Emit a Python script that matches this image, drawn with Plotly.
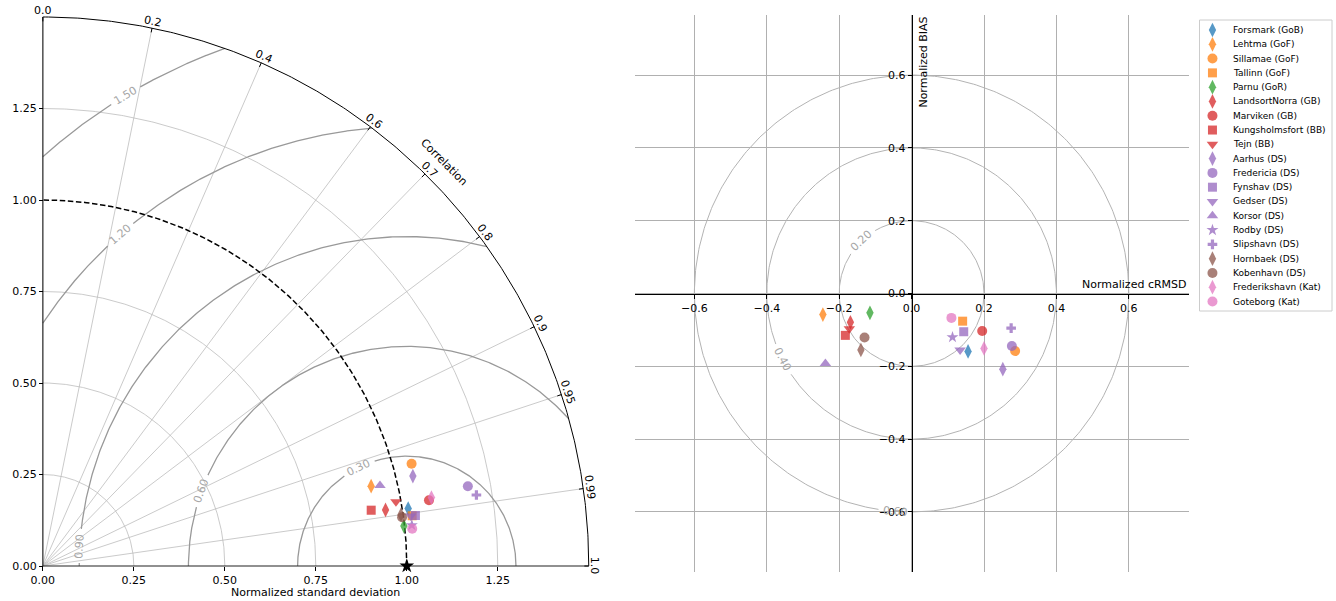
import numpy as np
import plotly.graph_objects as go

# ---------------- data ----------------
stations = [
    "Forsmark (GoB)", "Lehtma (GoF)", "Sillamae (GoF)", "Tallinn (GoF)", "Parnu (GoR)",
    "LandsortNorra (GB)", "Marviken (GB)", "Kungsholmsfort (BB)", "Tejn (BB)",
    "Aarhus (DS)", "Fredericia (DS)", "Fynshav (DS)", "Gedser (DS)", "Korsor (DS)",
    "Rodby (DS)", "Slipshavn (DS)", "Hornbaek (DS)", "Kobenhavn (DS)",
    "Frederikshavn (Kat)", "Goteborg (Kat)",
]
# Taylor statistics (std normalised by observations, Pearson correlation)
norm_std = [1.016, 0.928, 1.051, 1.024, 0.998, 0.954, 1.076, 0.915, 0.986, 1.046,
            1.188, 1.033, 1.020, 0.952, 1.020, 1.207, 0.994, 0.996, 1.084, 1.020]
correlation = [0.988, 0.972, 0.964, 0.991, 0.994, 0.987, 0.986, 0.986, 0.984, 0.972,
               0.983, 0.991, 0.991, 0.973, 0.994, 0.987, 0.990, 0.991, 0.985, 0.995]
# Target statistics (signed normalised centred RMSD, normalised bias)
norm_crmsd = [0.156, -0.245, 0.286, 0.141, -0.115, -0.169, 0.195, -0.183, -0.172, 0.252,
              0.277, 0.144, 0.134, -0.238, 0.113, 0.275, -0.140, -0.130, 0.200, 0.110]
norm_bias = [-0.159, -0.058, -0.158, -0.076, -0.053, -0.079, -0.103, -0.115, -0.097, -0.208,
             -0.144, -0.105, -0.155, -0.192, -0.120, -0.095, -0.155, -0.121, -0.151, -0.067]

ref_std = 1.0
std_ticks = [0.0, 0.25, 0.5, 0.75, 1.0, 1.25]
std_arcs = [0.25, 0.5, 0.75, 1.25]
std_max = 1.5
corr_ticks = [0.0, 0.2, 0.4, 0.6, 0.7, 0.8, 0.9, 0.95, 0.99, 1.0]
corr_tick_text = ["0.0", "0.2", "0.4", "0.6", "0.7", "0.8", "0.9", "0.95", "0.99", "1.0"]
rms_levels = [0.3, 0.6, 0.9, 1.2, 1.5]
rms_text = ["0.30", "0.60", "0.90", "1.20", "1.50"]
target_ticks = [-0.6, -0.4, -0.2, 0.0, 0.2, 0.4, 0.6]
target_rings = [0.2, 0.4, 0.6]
target_text = ["0.20", "0.40", "0.60"]

# ---------------- styles ----------------
BLUE, ORANGE, GREEN, RED = "#1f77b4", "#ff7f0e", "#2ca02c", "#d62728"
PURPLE, BROWN, PINK = "#9467bd", "#8c564b", "#e377c2"
colors = [BLUE, ORANGE, ORANGE, ORANGE, GREEN, RED, RED, RED, RED,
          PURPLE, PURPLE, PURPLE, PURPLE, PURPLE, PURPLE, PURPLE, BROWN, BROWN, PINK, PINK]
symbols = ["diamond-tall", "diamond-tall", "circle", "square", "diamond-tall",
           "diamond-tall", "circle", "square", "triangle-down",
           "diamond-tall", "circle", "square", "triangle-down", "triangle-up",
           "star", "cross", "diamond-tall", "circle", "diamond-tall", "circle"]
sym_size = {"diamond-tall": 10.5, "circle": 10, "square": 9, "triangle-up": 10,
            "triangle-down": 10, "star": 9, "cross": 8}
sizes = [sym_size[s] for s in symbols]
FONT = "DejaVu Sans"
GRID = "#bdbdbd"
CONTOUR = "#999999"
LABEL_GRAY = "#a6a6a6"

# ---------------- page geometry (pixels) ----------------
W, H = 1336, 601


def xdom(left, right):
    return [left / W, right / W]


def ydom(top, bottom):
    return [(H - bottom) / H, (H - top) / H]


# Taylor panel: origin and pixels per unit
T_OX, T_OY, T_KX, T_KY = 38.0, 566.0, 365.3, 366.0
T_LO, T_HI = -0.02, 1.52
# Target panel
G_LEFT, G_RIGHT, G_TOP, G_BOTTOM = 632.0, 1188.0, 15.0, 572.0
G_LIM = 0.765
# Legend panel
L_LEFT, L_RIGHT, L_TOP, L_BOTTOM = 1199.0, 1332.0, 20.0, 311.0
L_FIRST, L_STEP = 10.0, 14.29

fig = go.Figure()


def add_line(xs, ys, color, width, axes=("x", "y"), dash=None):
    fig.add_trace(go.Scatter(x=xs, y=ys, mode="lines", xaxis=axes[0], yaxis=axes[1],
                             line=dict(color=color, width=width, dash=dash),
                             hoverinfo="skip", showlegend=False))


def join(segments):
    xs, ys = [], []
    for sx, sy in segments:
        xs += list(sx) + [None]
        ys += list(sy) + [None]
    return xs, ys


def arc(cx, cy, r, a0, a1, n=300):
    t = np.linspace(a0, a1, n)
    return cx + r * np.cos(t), cy + r * np.sin(t)


def readable(deg):
    a = deg
    while a > 90:
        a -= 180
    while a <= -90:
        a += 180
    return -a


# ---------------- Taylor diagram ----------------
# standard-deviation arcs
add_line(*join([arc(0, 0, r, 0, np.pi / 2) for r in std_arcs]), GRID, 0.8)
# correlation rays
rays = []
for c in corr_ticks[1:-1]:
    th = np.arccos(c)
    rays.append(([0, std_max * np.cos(th)], [0, std_max * np.sin(th)]))
add_line(*join(rays), GRID, 0.8)

# centred RMS difference contours around the reference point
rms_label_angle = [116.0, 160.0, 176.5, 131.0, 121.0]
segs = []
for r, lab_deg in zip(rms_levels, rms_label_angle):
    lo = np.arccos(min(1.0, (std_max ** 2 - ref_std ** 2 - r ** 2) / (2 * r * ref_std)))
    hi = np.arccos(max(-1.0, -ref_std / r)) if r > ref_std else np.pi
    gap = 17.0 / (r * T_KX)
    la = np.radians(lab_deg)
    if la - gap > lo:
        segs.append(arc(ref_std, 0, r, lo, la - gap))
    if la + gap < hi:
        segs.append(arc(ref_std, 0, r, la + gap, hi))
add_line(*join(segs), CONTOUR, 1.3)

# reference standard deviation (dashed)
add_line(*arc(0, 0, ref_std, 0, np.pi / 2), "black", 1.5, dash="5.5px,2.6px")

# frame: outer arc and the two axes
fx, fy = arc(0, 0, std_max, 0, np.pi / 2)
add_line(list(fx), list(fy), "black", 1.0)
add_line([0, 0, None, 0, std_max], [0, std_max, None, 0, 0], "#222222", 1.2)
# correlation tick marks on the outer arc
tk = []
for c in corr_ticks:
    th = np.arccos(c)
    tk.append(([std_max * np.cos(th), (std_max - 0.012) * np.cos(th)],
               [std_max * np.sin(th), (std_max - 0.012) * np.sin(th)]))
add_line(*join(tk), "black", 1.0)

# model points
fig.add_trace(go.Scatter(
    x=[s * c for s, c in zip(norm_std, correlation)],
    y=[s * np.sqrt(1 - c ** 2) for s, c in zip(norm_std, correlation)],
    mode="markers", xaxis="x", yaxis="y", text=stations, hoverinfo="text",
    marker=dict(symbol=symbols, color=colors, size=sizes, opacity=0.75, line=dict(width=0)),
    showlegend=False))
# observation reference point
fig.add_trace(go.Scatter(x=[ref_std], y=[0], mode="markers", xaxis="x", yaxis="y",
                         marker=dict(symbol="star", color="black", size=11),
                         cliponaxis=False, hoverinfo="skip", showlegend=False))

annotations = []
for c, t in zip(corr_ticks, corr_tick_text):
    th = np.arccos(c)
    rr = std_max + 0.018
    annotations.append(dict(x=rr * np.cos(th), y=rr * np.sin(th), xref="x", yref="y",
                            text=t, showarrow=False, xanchor="center", yanchor="middle",
                            textangle=90 - np.degrees(th),
                            font=dict(family=FONT, size=11, color="black")))
annotations.append(dict(x=1.561 * np.cos(np.pi / 4), y=1.561 * np.sin(np.pi / 4),
                        xref="x", yref="y", text="Correlation", showarrow=False,
                        xanchor="center", yanchor="middle", textangle=45,
                        font=dict(family=FONT, size=11, color="black")))
for r, t, lab_deg in zip(rms_levels, rms_text, rms_label_angle):
    la = np.radians(lab_deg)
    annotations.append(dict(x=ref_std + r * np.cos(la), y=r * np.sin(la), xref="x", yref="y",
                            text=t, showarrow=False, xanchor="center", yanchor="middle",
                            textangle=readable(lab_deg - 90),
                            font=dict(family=FONT, size=11, color=LABEL_GRAY)))
annotations.append(dict(x=(T_OX + 0.75 * T_KX) / W, y=(H - 592) / H, xref="paper", yref="paper",
                        text="Normalized standard deviation", showarrow=False,
                        xanchor="center", yanchor="middle",
                        font=dict(family=FONT, size=11, color="black")))

# ---------------- target diagram ----------------
target_label_angle = [133.6, 207.0, 265.7]
segs = []
for r, lab_deg, t in zip(target_rings, target_label_angle, target_text):
    gap = 17.0 / (r * 363.4)
    la = np.radians(lab_deg)
    segs.append(arc(0, 0, r, la + gap, la + 2 * np.pi - gap, 500))
    annotations.append(dict(x=r * np.cos(la), y=r * np.sin(la), xref="x2", yref="y2",
                            text=t, showarrow=False, xanchor="center", yanchor="middle",
                            textangle=readable(lab_deg - 90),
                            font=dict(family=FONT, size=11, color=LABEL_GRAY)))
add_line(*join(segs), "#b3b3b3", 1.0, axes=("x2", "y2"))

fig.add_trace(go.Scatter(
    x=norm_crmsd, y=norm_bias, mode="markers", xaxis="x2", yaxis="y2",
    text=stations, hoverinfo="text",
    marker=dict(symbol=symbols, color=colors, size=sizes, opacity=0.75, line=dict(width=0)),
    showlegend=False))

annotations.append(dict(x=G_LIM, y=0, xref="x2", yref="y2", text="Normalized cRMSD",
                        showarrow=False, xanchor="right", yanchor="bottom", yshift=1,
                        font=dict(family=FONT, size=11, color="black")))
annotations.append(dict(x=0, y=G_LIM, xref="x2", yref="y2", text="Normalized BIAS",
                        showarrow=False, xanchor="left", yanchor="top", textangle=-90,
                        xshift=3, font=dict(family=FONT, size=11, color="black")))

# ---------------- legend ----------------
idx = list(range(len(stations)))
fig.add_trace(go.Scatter(
    x=[13] * len(stations), y=idx, mode="markers", xaxis="x3", yaxis="y3",
    marker=dict(symbol=symbols, color=colors, size=sizes, opacity=0.75, line=dict(width=0)),
    hoverinfo="skip", showlegend=False, cliponaxis=False))
for i, name in zip(idx, stations):
    annotations.append(dict(x=32, y=i, xref="x3", yref="y3", text=name, showarrow=False,
                            xanchor="left", yanchor="middle",
                            font=dict(family=FONT, size=9, color="black")))

axis_font = dict(family=FONT, size=11, color="black")
fig.update_layout(
    width=W, height=H, margin=dict(l=0, r=0, t=0, b=0),
    paper_bgcolor="white", plot_bgcolor="rgba(0,0,0,0)",
    showlegend=False, annotations=annotations,
    shapes=[dict(type="rect", xref="paper", yref="paper",
                 x0=L_LEFT / W, x1=L_RIGHT / W, y0=(H - L_BOTTOM) / H, y1=(H - L_TOP) / H,
                 line=dict(color="#cccccc", width=1), fillcolor="rgba(255,255,255,0.8)",
                 layer="below")],
    xaxis=dict(domain=xdom(T_OX + T_LO * T_KX, T_OX + T_HI * T_KX), range=[T_LO, T_HI],
               anchor="free", position=(H - T_OY) / H, showgrid=False, zeroline=False,
               showline=False, ticks="outside", ticklen=4, tickcolor="black",
               tickvals=std_ticks, tickformat=".2f", tickfont=axis_font),
    yaxis=dict(domain=ydom(T_OY - T_HI * T_KY, T_OY - T_LO * T_KY), range=[T_LO, T_HI],
               anchor="free", position=T_OX / W, showgrid=False, zeroline=False,
               showline=False, ticks="outside", ticklen=4, tickcolor="black",
               tickvals=std_ticks, tickformat=".2f", tickfont=axis_font),
    xaxis2=dict(domain=xdom(G_LEFT, G_RIGHT), range=[-G_LIM, G_LIM],
                anchor="free", position=(ydom(G_TOP, G_BOTTOM)[0] + ydom(G_TOP, G_BOTTOM)[1]) / 2,
                showgrid=True, gridcolor="#b0b0b0", gridwidth=0.8, zeroline=False,
                showline=True, linecolor="black", linewidth=1,
                ticks="outside", ticklen=4, tickcolor="black",
                tickvals=target_ticks, tickformat=".1f", tickfont=axis_font),
    yaxis2=dict(domain=ydom(G_TOP, G_BOTTOM), range=[-G_LIM, G_LIM],
                anchor="free", position=(xdom(G_LEFT, G_RIGHT)[0] + xdom(G_LEFT, G_RIGHT)[1]) / 2,
                showgrid=True, gridcolor="#b0b0b0", gridwidth=0.8, zeroline=False,
                showline=True, linecolor="black", linewidth=1,
                ticks="outside", ticklen=4, tickcolor="black",
                tickvals=target_ticks, tickformat=".1f", tickfont=axis_font),
    xaxis3=dict(domain=xdom(L_LEFT, L_RIGHT), range=[0, L_RIGHT - L_LEFT], visible=False,
                anchor="y3"),
    yaxis3=dict(domain=ydom(L_TOP, L_BOTTOM),
                range=[(L_BOTTOM - L_TOP - L_FIRST) / L_STEP, -L_FIRST / L_STEP],
                visible=False, anchor="x3"),
)

fig.write_html("out.html")
